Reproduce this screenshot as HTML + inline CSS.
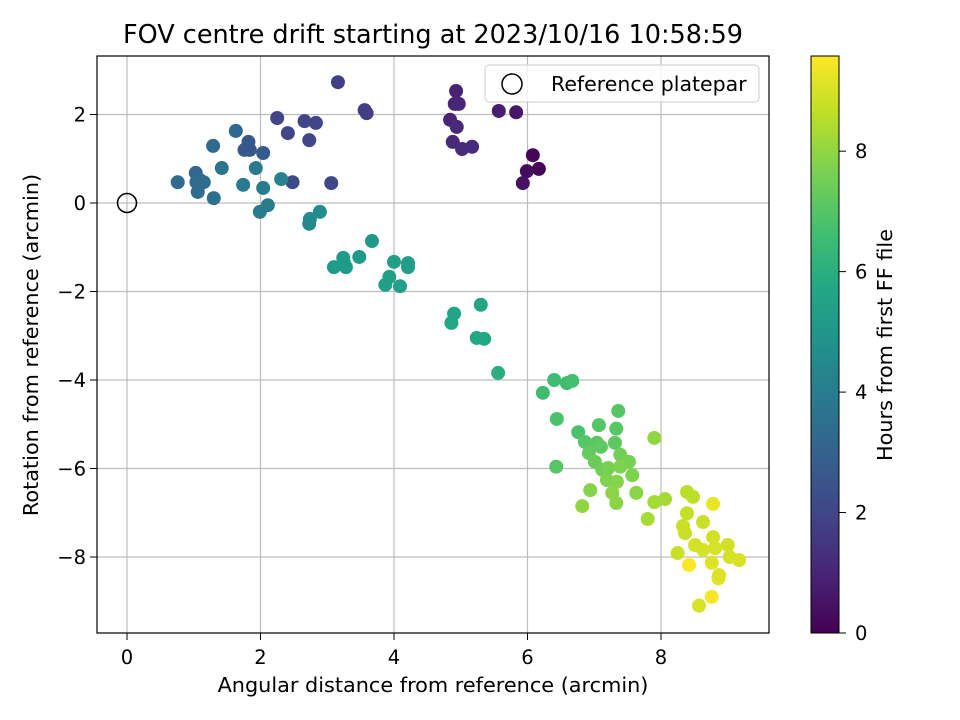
<!DOCTYPE html>
<html><head><meta charset="utf-8">
<style>
html,body{margin:0;padding:0;background:#fff;}
svg{display:block;font-family:"DejaVu Sans","Liberation Sans",sans-serif;}
</style></head>
<body>
<svg id="chart" width="960" height="720" viewBox="0 0 960 720">
<defs>
<linearGradient id="vir" x1="0" y1="1" x2="0" y2="0">
<stop offset="0" stop-color="#440154"/><stop offset="0.1" stop-color="#482475"/>
<stop offset="0.2" stop-color="#414487"/><stop offset="0.3" stop-color="#355f8d"/>
<stop offset="0.4" stop-color="#2a788e"/><stop offset="0.5" stop-color="#21918c"/>
<stop offset="0.6" stop-color="#22a884"/><stop offset="0.7" stop-color="#44bf70"/>
<stop offset="0.8" stop-color="#7ad151"/><stop offset="0.9" stop-color="#bddf26"/>
<stop offset="1" stop-color="#fde725"/>
</linearGradient>
</defs>
<text x="433" y="43" text-anchor="middle" font-size="25.5">FOV centre drift starting at 2023/10/16 10:58:59</text>
<g id="grid"></g>
<g id="points"></g>
<rect x="97" y="56" width="672" height="577" fill="none" stroke="#000" stroke-width="1.2"/>
<g id="ticks"></g>
<text x="433" y="692" text-anchor="middle" font-size="20.8">Angular distance from reference (arcmin)</text>
<text transform="translate(38,345) rotate(-90)" text-anchor="middle" font-size="20.8">Rotation from reference (arcmin)</text>
<g>
<rect x="485" y="65" width="274" height="37" rx="4" fill="#fff" fill-opacity="0.8" stroke="#ccc"/>
<circle cx="512" cy="84" r="10" fill="none" stroke="#000" stroke-width="1.5"/>
<text x="551" y="91" font-size="20.5">Reference platepar</text>
</g>
<rect x="811" y="56" width="28" height="577" fill="url(#vir)"/>
<rect x="811" y="56" width="28" height="577" fill="none" stroke="#000" stroke-width="1"/>
<g id="cbticks"></g>
<text transform="translate(892,345) rotate(-90)" text-anchor="middle" font-size="20.8">Hours from first FF file</text>
</svg>
<script>
const xTicks=[0,2,4,6,8];
const yTicks=[2,0,-2,-4,-6,-8];
const cbTicks=[0,2,4,6,8];
const refPoint=[0,0];
const xs=[6.08,6.17,5.99,5.93,5.83,5.57,4.93,4.91,4.97,4.84,4.94,4.88,5.02,5.17,
3.16,3.56,3.59,2.25,2.66,2.83,2.41,2.73,2.48,3.06,
1.63,1.82,1.84,1.76,2.04,1.29,1.03,1.04,1.09,1.15,0.76,1.06,1.30,1.42,1.93,1.74,2.04,2.31,2.11,1.99,
2.89,2.74,2.73,3.67,3.48,3.24,3.25,3.28,3.10,4.0,4.21,4.21,3.93,3.87,4.09,4.9,5.3,4.86,5.24,5.35,5.56,
6.4,6.59,6.67,6.23,6.44,7.36,6.76,7.07,7.33,7.9,6.86,7.04,7.1,7.31,6.92,7.01,7.39,7.52,7.12,7.21,7.39,7.57,7.19,7.34,7.27,6.94,6.82,7.33,7.63,6.43,
7.9,8.06,7.8,8.39,8.48,8.78,8.39,8.63,8.33,8.36,8.78,9.0,8.51,8.25,8.63,8.81,9.03,9.17,8.76,8.42,8.87,8.86,8.76,8.57];
const ys=[1.08,0.77,0.72,0.45,2.05,2.08,2.53,2.24,2.24,1.88,1.72,1.38,1.22,1.27,
2.73,2.1,2.03,1.92,1.85,1.81,1.58,1.42,0.47,0.45,
1.63,1.38,1.2,1.2,1.13,1.29,0.68,0.47,0.52,0.47,0.47,0.25,0.11,0.79,0.79,0.41,0.34,0.54,-0.05,-0.2,
-0.2,-0.36,-0.47,-0.86,-1.22,-1.24,-1.36,-1.45,-1.45,-1.33,-1.36,-1.45,-1.67,-1.85,-1.88,-2.5,-2.3,-2.71,-3.05,-3.07,-3.84,
-4.0,-4.07,-4.02,-4.29,-4.88,-4.7,-5.18,-5.02,-5.1,-5.31,-5.4,-5.42,-5.51,-5.42,-5.65,-5.85,-5.69,-5.85,-6.03,-5.99,-5.96,-6.15,-6.26,-6.3,-6.55,-6.49,-6.85,-6.78,-6.55,-5.96,
-6.76,-6.69,-7.14,-6.53,-6.64,-6.8,-7.01,-7.21,-7.3,-7.46,-7.55,-7.73,-7.73,-7.91,-7.84,-7.8,-8.0,-8.07,-8.13,-8.18,-8.41,-8.48,-8.9,-9.1];
const hours=[0.1,0.1,0.3,0.4,0.6,0.8,0.9,1.0,1.0,1.0,1.1,1.1,1.2,1.2,
1.8,1.7,1.7,2.0,2.0,2.0,2.0,2.0,2.2,2.0,
3.2,2.6,2.6,2.6,2.7,3.3,3.2,3.3,3.4,3.4,3.3,3.4,3.5,3.7,3.9,3.9,4.0,4.2,4.0,4.0,
4.6,4.6,4.5,5.1,5.2,5.2,5.2,5.2,5.2,5.3,5.3,5.3,5.4,5.4,5.4,5.6,5.6,5.7,5.7,5.7,6.0,
6.6,6.6,6.7,6.6,6.8,7.0,6.8,7.0,7.1,8.0,7.0,7.1,7.2,7.2,7.3,7.4,7.5,7.6,7.5,7.6,7.7,7.7,7.7,7.8,7.9,7.8,8.0,7.9,7.9,7.0,
8.3,8.3,8.3,8.6,8.6,9.3,8.7,8.8,8.8,8.8,8.9,8.9,8.9,8.8,9.0,9.0,9.0,9.0,9.1,9.6,9.1,9.1,9.5,9.0];
const X0=127,XS=66.75,Y0=203,YS=44.25,HMAX=9.58;
const xp=v=>X0+v*XS, yp=v=>Y0-v*YS, cb=v=>633-v*(577/HMAX);
const VIR=[[68,1,84],[72,36,117],[65,68,135],[53,95,141],[42,120,142],[33,145,140],[34,168,132],[68,191,112],[122,209,81],[189,223,38],[253,231,37]];
function vir(t){t=Math.max(0,Math.min(1,t))*10;const i=Math.min(9,Math.floor(t)),f=t-i;const a=VIR[i],b=VIR[i+1];
return 'rgb('+a.map((c,k)=>Math.round(c+(b[k]-c)*f)).join(',')+')';}
const NS='http://www.w3.org/2000/svg';
function mk(tag,attrs,parent,txt){const e=document.createElementNS(NS,tag);for(const k in attrs)e.setAttribute(k,attrs[k]);if(txt!==undefined)e.textContent=txt;parent.appendChild(e);return e;}
const grid=document.getElementById('grid'),ticks=document.getElementById('ticks'),pts=document.getElementById('points'),cbt=document.getElementById('cbticks');
xTicks.forEach(v=>{const x=xp(v);
const g=mk('line',{x1:x,x2:x,y1:56,y2:633,stroke:'#bdbdbd','stroke-width':1.2},grid);


mk('line',{x1:x,x2:x,y1:633,y2:640,stroke:'#000'},ticks);
const t=mk('text',{x:x,y:664,'text-anchor':'middle','font-size':19.5},ticks,String(v));

});
yTicks.forEach(v=>{const y=yp(v);
const g=mk('line',{x1:97,x2:769,y1:y,y2:y,stroke:'#bdbdbd','stroke-width':1.2},grid);


mk('line',{x1:90,x2:97,y1:y,y2:y,stroke:'#000'},ticks);
const t=mk('text',{x:86,y:y+7,'text-anchor':'end','font-size':19.5},ticks,(v<0?'\u2212'+(-v):String(v)));

});
xs.forEach((v,i)=>{const c=mk('circle',{cx:xp(v),cy:yp(ys[i]),r:7,fill:vir(hours[i]/HMAX)},pts);

});
const ref=mk('circle',{cx:xp(refPoint[0]),cy:yp(refPoint[1]),r:9.5,fill:'none',stroke:'#000','stroke-width':1.5},pts);


cbTicks.forEach(v=>{const y=cb(v);
mk('line',{x1:839,x2:846,y1:y,y2:y,stroke:'#000'},cbt);
const t=mk('text',{x:855,y:y+7,'font-size':19.5},cbt,String(v));

});
</script>
</body></html>
